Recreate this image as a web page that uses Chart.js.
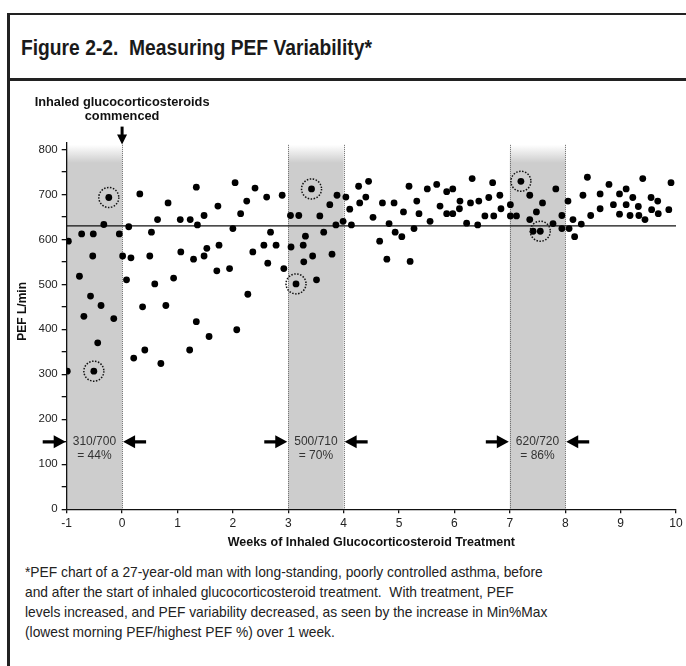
<!DOCTYPE html>
<html>
<head>
<meta charset="utf-8">
<script src="https://cdn.jsdelivr.net/npm/chart.js@4.4.1/dist/chart.umd.min.js"></script>
<style>
  html, body { margin: 0; padding: 0; overflow: hidden; background: #fff; }
  body { width: 686px; height: 666px; position: relative;
         font-family: "Liberation Sans", Arial, sans-serif; color: #1a1a1a; }
  #frame { position: absolute; left: 7px; top: 13px; width: 760px; height: 700px;
           border-left: 3px solid #222; border-top: 2px solid #222; }
  #frameSep { position: absolute; left: 8px; top: 78px; width: 760px; height: 3px; background: #222; }
  #title { position: absolute; left: 21px; top: 37px; font-size: 22px; line-height: 22px; font-weight: bold;
           white-space: pre; transform: scaleX(0.875); transform-origin: 0 0; }
  #note { position: absolute; left: 25px; top: 562px; font-size: 15px; line-height: 20px; white-space: pre;
          color: #222; transform: scaleX(0.92); transform-origin: 0 0; }
  canvas { position: absolute; left: 0; top: 0; }
</style>
</head>
<body>
<div id="frame"></div>
<div id="frameSep"></div>
<div id="title">Figure 2-2.  Measuring PEF Variability*</div>
<div id="note">*PEF chart of a 27-year-old man with long-standing, poorly controlled asthma, before
and after the start of inhaled glucocorticosteroid treatment.  With treatment, PEF
levels increased, and PEF variability decreased, as seen by the increase in Min%Max
(lowest morning PEF/highest PEF %) over 1 week.</div>
<canvas id="grafico" width="686" height="666"></canvas>
<script>
// semanas y PEF (L/min)
const weeks = [
  -0.97, -0.73, -0.52, -0.33, -0.05, -0.24, -0.53, -0.77, -0.57, -0.38, -0.69, -0.15, -0.44, -0.51, -0.99,
  0.01, 0.12, 0.16, 0.08, 0.32, 0.53, 0.50, 0.59, 0.37, 0.41, 0.21, 0.70, 0.64, 0.83, 0.79, 0.93,
  1.05, 1.23, 1.34, 1.36, 1.48, 1.06, 1.29, 1.48, 1.53, 1.34, 1.22, 1.57, 1.71, 1.73, 1.75,
  2.04, 2.14, 2.00, 1.94, 2.27, 2.07, 2.40, 2.25, 2.61, 2.89, 2.68, 2.56, 2.78, 2.36, 2.63, 2.92,
  3.04, 3.19, 3.42, 3.57, 3.31, 3.05, 3.27, 3.64, 3.28, 3.44, 3.14, 3.51, 3.79, 3.75, 3.88, 3.86, 3.99,
  4.04, 4.11, 4.14, 4.27, 4.29, 4.40, 4.45, 4.53, 4.70, 4.82, 4.65, 4.78, 4.91, 4.93,
  5.05, 5.08, 5.18, 5.20, 5.27, 5.32, 5.36, 5.51, 5.56, 5.68, 5.74, 5.86, 5.97, 5.86, 5.97,
  6.09, 6.10, 6.22, 6.29, 6.32, 6.42, 6.44, 6.55, 6.62, 6.69, 6.71, 6.82, 6.84,
  7.01, 7.01, 7.12, 7.20, 7.36, 7.59, 7.48, 7.36, 7.83, 7.78, 7.42, 7.55, 7.94, 7.94,
  8.05, 8.07, 8.14, 8.17, 8.29, 8.32, 8.40, 8.46, 8.63, 8.63, 8.79, 8.87, 8.98, 8.98,
  9.10, 9.10, 9.17, 9.22, 9.32, 9.33, 9.40, 9.44, 9.55, 9.56, 9.67, 9.68, 9.87, 9.91
];
const pef = [
  596, 612, 612, 633, 612, 693, 563, 518, 474, 453, 429, 424, 370, 307, 307,
  563, 628, 559, 510, 701, 616, 563, 501, 450, 354, 336, 324, 644, 681, 453, 514,
  644, 644, 716, 632, 653, 572, 556, 563, 580, 417, 354, 384, 530, 674, 587,
  726, 657, 624, 535, 478, 399, 714, 685, 694, 698, 616, 587, 587, 572, 547, 535,
  653, 653, 712, 652, 607, 583, 587, 616, 550, 563, 501, 510, 567, 677, 698, 632, 640,
  694, 667, 632, 718, 681, 694, 729, 649, 681, 635, 596, 556, 681, 616,
  606, 661, 718, 551, 624, 685, 657, 712, 640, 722, 674, 706, 712, 657, 657,
  668, 685, 636, 681, 735, 632, 685, 652, 693, 726, 652, 698, 668,
  677, 652, 652, 729, 698, 681, 661, 644, 712, 635, 618, 618, 653, 624,
  685, 624, 644, 606, 634, 698, 738, 653, 701, 668, 722, 677, 701, 656,
  712, 677, 653, 693, 673, 653, 735, 644, 693, 666, 685, 657, 666, 726
];

// puntos marcados con circulo punteado
const circledWeeks = [-0.24, -0.51, 3.42, 3.14, 7.20, 7.55];
const circledPef = [693, 307, 712, 501, 729, 618];

// linea de referencia
const refPef = 630;

// semanas sombreadas y su Min%Max
const bandStart = [-1, 3, 7];
const bandEnd = [0, 4, 8];
const bandRatio = ["310/700", "500/710", "620/720"];
const bandPct = ["= 44%", "= 70%", "= 86%"];

const xTicks = [-1, 0, 1, 2, 3, 4, 5, 6, 7, 8, 9, 10];
const yTicks = [0, 50, 100, 150, 200, 250, 300, 350, 400, 450, 500, 550, 600, 650, 700, 750, 800];

const FONT = '"Liberation Sans", Arial, sans-serif';
Chart.defaults.font.family = FONT;

function arrow(ctx, tipX, y, dir) {
    // dir = 1 apunta a la derecha, -1 a la izquierda
    ctx.beginPath();
    ctx.moveTo(tipX, y);
    ctx.lineTo(tipX - dir * 12, y - 6.5);
    ctx.lineTo(tipX - dir * 12, y - 1.6);
    ctx.lineTo(tipX - dir * 23, y - 1.6);
    ctx.lineTo(tipX - dir * 23, y + 1.6);
    ctx.lineTo(tipX - dir * 12, y + 1.6);
    ctx.lineTo(tipX - dir * 12, y + 6.5);
    ctx.closePath();
    ctx.fill();
}

const overlay = {
    id: "overlay",
    beforeDraw(chart) {
        const { ctx, scales: { x, y } } = chart;
        const top = y.getPixelForValue(810);
        const bottom = y.getPixelForValue(0);
        ctx.save();
        for (let i = 0; i < bandStart.length; i++) {
            const x0 = x.getPixelForValue(bandStart[i]);
            const x1 = x.getPixelForValue(bandEnd[i]);
            const g = ctx.createLinearGradient(0, top, 0, top + 18);
            g.addColorStop(0, "#ffffff");
            g.addColorStop(1, "#cdcdcd");
            ctx.fillStyle = g;
            ctx.fillRect(x0, top, x1 - x0, bottom - top);
            ctx.strokeStyle = "#666";
            ctx.lineWidth = 1;
            ctx.setLineDash([1, 1]);
            [x0, x1].forEach(px => {
                if (px === x.left) return;
                ctx.beginPath();
                ctx.moveTo(Math.round(px) + 0.5, top);
                ctx.lineTo(Math.round(px) + 0.5, bottom);
                ctx.stroke();
            });
            ctx.setLineDash([]);
        }
        ctx.restore();
    },
    afterDatasetsDraw(chart) {
        const { ctx, chartArea, scales: { x, y } } = chart;
        ctx.save();

        // circulos punteados
        ctx.strokeStyle = "#111";
        ctx.lineWidth = 1.5;
        ctx.setLineDash([1.5, 1.5]);
        for (let i = 0; i < circledWeeks.length; i++) {
            ctx.beginPath();
            ctx.arc(x.getPixelForValue(circledWeeks[i]), y.getPixelForValue(circledPef[i]), 10, 0, Math.PI * 2);
            ctx.stroke();
        }
        ctx.setLineDash([]);

        // flechas y Min%Max
        const ay = y.getPixelForValue(150);
        for (let i = 0; i < bandStart.length; i++) {
            const x0 = x.getPixelForValue(bandStart[i]);
            const x1 = x.getPixelForValue(bandEnd[i]);
            ctx.fillStyle = "#000";
            arrow(ctx, x0 - 1, ay, 1);
            arrow(ctx, x1 + 1, ay, -1);
            ctx.fillStyle = "#333";
            ctx.font = "12px " + FONT;
            ctx.textAlign = "center";
            ctx.textBaseline = "middle";
            ctx.fillText(bandRatio[i], (x0 + x1) / 2, ay);
            ctx.fillText(bandPct[i], (x0 + x1) / 2, ay + 13.5);
        }

        // titulo del eje y
        ctx.fillStyle = "#111";
        ctx.font = "bold 12px " + FONT;
        ctx.textAlign = "center";
        ctx.textBaseline = "middle";
        ctx.save();
        ctx.translate(23, y.getPixelForValue(440));
        ctx.rotate(-Math.PI / 2);
        ctx.fillText("PEF L/min", 0, 0);
        ctx.restore();

        // inicio del tratamiento
        const sx = x.getPixelForValue(0);
        ctx.font = "bold 12.8px " + FONT;
        ctx.fillText("Inhaled glucocorticosteroids", sx, chartArea.top - 40);
        ctx.fillText("commenced", sx, chartArea.top - 26);
        ctx.fillStyle = "#000";
        ctx.fillRect(sx - 1.5, chartArea.top - 16, 3, 10);
        ctx.beginPath();
        ctx.moveTo(sx - 5, chartArea.top - 8);
        ctx.lineTo(sx + 5, chartArea.top - 8);
        ctx.lineTo(sx, chartArea.top + 2);
        ctx.closePath();
        ctx.fill();
        ctx.restore();
    }
};

const points = weeks.map((w, i) => ({ x: w, y: pef[i] }));

new Chart(document.getElementById("grafico"), {
    type: "scatter",
    data: {
        datasets: [{
            label: "PEF",
            data: points,
            pointRadius: 3.4,
            pointBackgroundColor: "#000",
            pointBorderWidth: 0
        }, {
            type: "line",
            label: "ref",
            data: [{ x: -1, y: refPef }, { x: 10, y: refPef }],
            borderColor: "#111",
            borderWidth: 1.3,
            pointRadius: 0
        }]
    },
    options: {
        responsive: false,
        animation: false,
        events: [],
        layout: { padding: { top: 142.6, left: 0, right: 10, bottom: 0 } },
        plugins: {
            legend: { display: false },
            tooltip: { enabled: false }
        },
        scales: {
            x: {
                type: "linear",
                min: -1,
                max: 10,
                afterBuildTicks: s => { s.ticks = xTicks.map(v => ({ value: v })); },
                afterFit: s => { s.height = 156.7; },
                grid: { drawOnChartArea: false, drawTicks: true, tickLength: 4, color: "#111", lineWidth: 1.3 },
                border: { display: true, color: "#111", width: 1.3 },
                ticks: { color: "#222", font: { size: 12 }, padding: 3, maxRotation: 0, autoSkip: false },
                title: {
                    display: true,
                    text: "Weeks of Inhaled Glucocorticosteroid Treatment",
                    color: "#111",
                    font: { size: 12.5, weight: "bold" },
                    padding: { top: 0, bottom: 115.5 }
                }
            },
            y: {
                min: 0,
                max: 815,
                afterBuildTicks: s => { s.ticks = yTicks.map(v => ({ value: v })); },
                afterFit: s => { s.width = 66.7; },
                grid: { drawOnChartArea: false, drawTicks: true, tickLength: 5, color: "#111", lineWidth: 1.3 },
                border: { display: true, color: "#111", width: 1.3 },
                ticks: {
                    color: "#222",
                    font: { size: 11.5 },
                    padding: 4,
                    autoSkip: false,
                    callback: v => (v % 100 === 0 ? v : "")
                },
                title: { display: false }
            }
        }
    },
    plugins: [overlay]
});
</script>
</body>
</html>
